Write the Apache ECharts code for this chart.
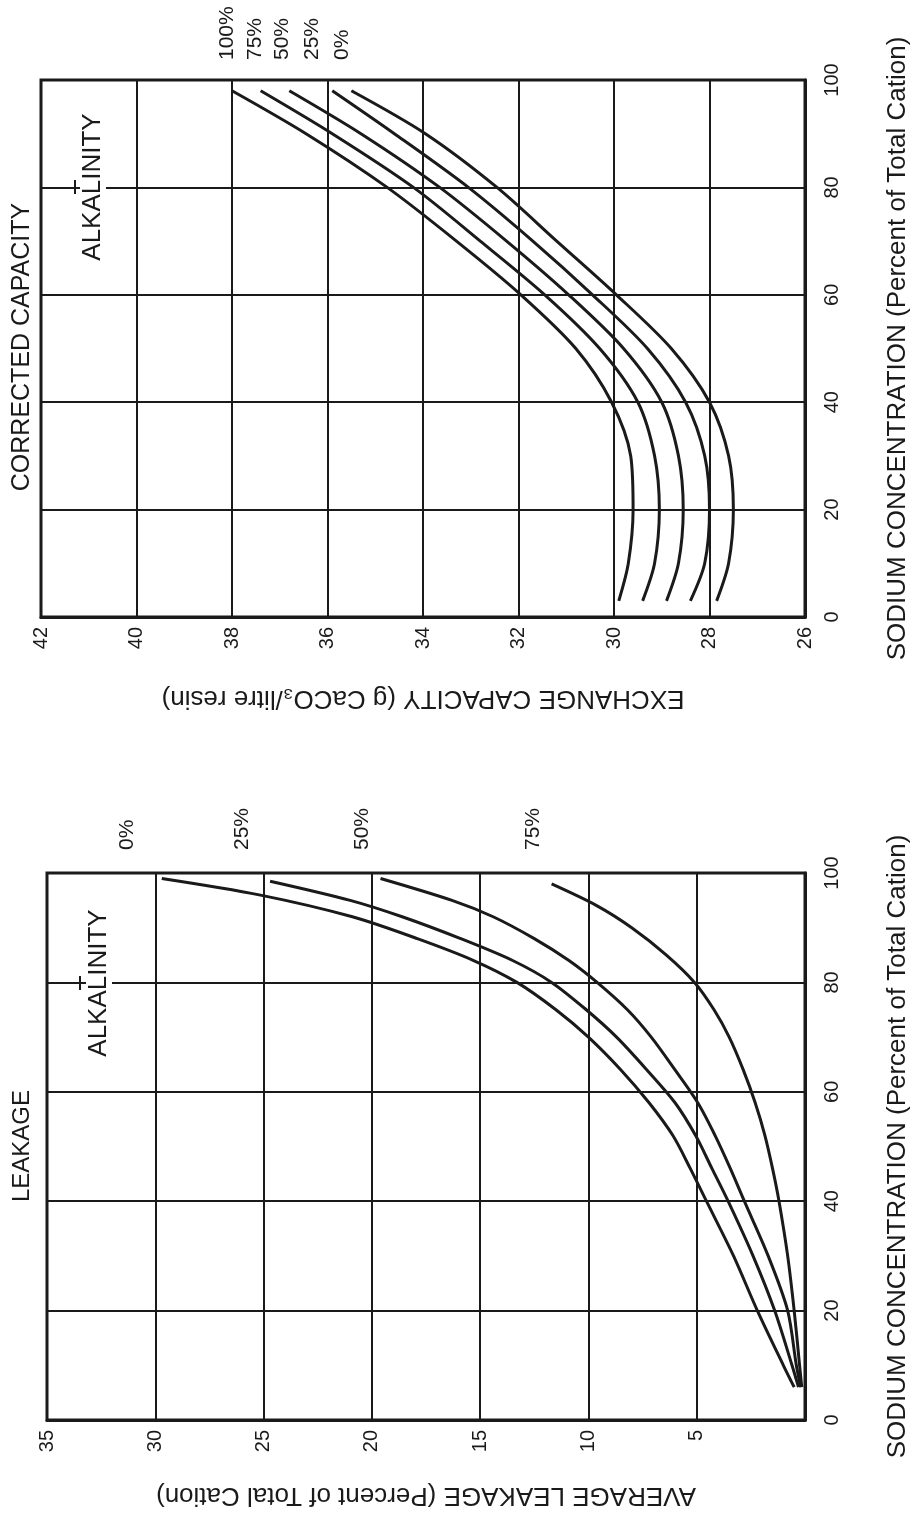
<!DOCTYPE html>
<html>
<head>
<meta charset="utf-8">
<script src="https://cdn.jsdelivr.net/npm/echarts@6/dist/echarts.min.js"></script>
<style>
html,body{margin:0;padding:0;background:#ffffff;}
#chart{width:919px;height:1514px;}
</style>
</head>
<body>
<div id="chart"></div>
<script>
// ---------- DATA ----------
// Corrected capacity chart: exchange capacity (g CaCO3/litre resin) vs sodium concentration (%)
const capacitySodium = [3, 10, 20, 30, 40, 50, 60, 70, 80, 90, 98];
const capacity100 = [29.9, 29.7, 29.6, 29.65, 30.05, 30.8, 31.95, 33.3, 34.75, 36.45, 38.0];
const capacity75  = [29.4, 29.15, 29.05, 29.15, 29.5, 30.3, 31.45, 32.8, 34.2, 35.9, 37.4];
const capacity50  = [28.9, 28.65, 28.55, 28.65, 29.0, 29.8, 30.95, 32.25, 33.65, 35.3, 36.8];
const capacity25  = [28.4, 28.1, 28.0, 28.1, 28.5, 29.3, 30.45, 31.7, 33.05, 34.6, 35.9];
const capacity0   = [27.85, 27.6, 27.5, 27.6, 28.0, 28.8, 29.95, 31.2, 32.45, 33.95, 35.5];
const capacityLabels = ['100%', '75%', '50%', '25%', '0%'];

// Leakage chart: average leakage (% of total cation) vs sodium concentration (%)
const leakSodium0  = [6, 10, 20, 30, 40, 46, 52, 58, 64, 70, 75, 80, 84, 88, 92, 96, 99];
const leakage0     = [0.5, 1.0, 2.2, 3.3, 4.55, 5.3, 6.1, 7.2, 8.5, 10.0, 11.5, 13.3, 15.3, 17.9, 20.9, 25.2, 29.7];
const leakSodium25 = [6, 10, 20, 30, 40, 46, 52, 58, 64, 70, 75, 80, 84, 88, 92, 95, 98.5];
const leakage25    = [0.3, 0.6, 1.4, 2.4, 3.55, 4.3, 5.05, 6.0, 7.3, 8.7, 10.1, 11.7, 13.5, 15.9, 18.6, 21.0, 24.7];
const leakSodium50 = [6, 10, 20, 30, 40, 46, 52, 58, 64, 70, 75, 80, 84, 88, 92, 95, 99];
const leakage50    = [0.2, 0.4, 0.8, 1.7, 2.8, 3.45, 4.15, 4.95, 6.0, 7.1, 8.2, 9.6, 10.9, 12.5, 14.4, 16.3, 19.6];
const leakSodium75 = [6, 10, 20, 30, 40, 46, 52, 58, 64, 70, 75, 80, 85, 90, 94, 98];
const leakage75    = [0.15, 0.25, 0.5, 0.8, 1.2, 1.5, 1.85, 2.3, 2.85, 3.5, 4.2, 5.1, 6.4, 8.0, 9.6, 11.7];
const leakageLabels = ['0%', '25%', '50%', '75%'];

// ---------- CHART ----------
const INK = '#1a1a1a';
const FONT = '"Liberation Sans", Arial, Helvetica, sans-serif';
const chart = echarts.init(document.getElementById('chart'), null, {renderer: 'canvas'});

function pairs(xs, ys) { return ys.map((s, i) => [xs[i], s]); }

function curve(name, xIdx, xs, ys) {
  return {
    name: name, type: 'line', xAxisIndex: xIdx, yAxisIndex: xIdx,
    data: pairs(xs, ys), smooth: 0.3, showSymbol: false, symbol: 'none',
    lineStyle: {color: INK, width: 3}, z: 5, silent: true
  };
}

const axisText = {color: INK, fontSize: 20, fontFamily: FONT};
const nameText = {color: INK, fontSize: 26, fontFamily: FONT};

function valueAxisX(grid, min, max, interval, name, hideZero, gap) {
  return {
    gridIndex: grid, type: 'value', min: min, max: max, interval: interval,
    inverse: true, position: 'bottom',
    axisLine: {show: true, lineStyle: {color: INK, width: 3}},
    axisTick: {show: false},
    splitLine: {show: true, lineStyle: {color: INK, width: 2}},
    axisLabel: Object.assign({rotate: 90, margin: 10,
      formatter: v => (hideZero && v === 0) ? '' : String(v)}, axisText),
    name: name, nameLocation: 'middle', nameGap: gap, nameRotate: 180,
    nameTextStyle: nameText
  };
}
function sodiumAxis(grid) {
  return {
    gridIndex: grid, type: 'value', min: 0, max: 100, interval: 20, position: 'right',
    axisLine: {show: true, lineStyle: {color: INK, width: 3}},
    axisTick: {show: false},
    splitLine: {show: true, lineStyle: {color: INK, width: 2}},
    axisLabel: Object.assign({rotate: 90, margin: 17}, axisText),
    name: 'SODIUM CONCENTRATION (Percent of Total Cation)',
    nameLocation: 'middle', nameGap: 80, nameRotate: 90,
    nameTextStyle: nameText
  };
}

function vText(text, x, y, size, align, extra) {
  return {
    type: 'text', x: x, y: y, rotation: Math.PI / 2, z: 20, silent: true,
    style: Object.assign({text: text, fill: INK, fontSize: size, fontFamily: FONT,
      align: align, verticalAlign: 'middle'}, extra || {})
  };
}

const capPctX = [227, 255, 282, 312, 342];
const leakPctX = [127, 242, 362, 533];

const graphics = [
  vText('CORRECTED CAPACITY', 22, 347, 25, 'center'),
  vText('LEAKAGE', 22, 1146, 24, 'center'),
  vText('ALKALINITY', 93, 187, 26, 'center', {backgroundColor: '#ffffff', padding: [0, 4]}),
  vText('ALKALINITY', 99, 983, 26, 'center', {backgroundColor: '#ffffff', padding: [0, 4]}),
  {type: 'line', z: 21, shape: {x1: 75, y1: 180, x2: 75, y2: 194}, style: {stroke: INK, lineWidth: 2}},
  {type: 'line', z: 21, shape: {x1: 80, y1: 976, x2: 80, y2: 990}, style: {stroke: INK, lineWidth: 2}}
];
capacityLabels.forEach((t, i) => graphics.push(vText(t, capPctX[i], 60, 21, 'left')));
leakageLabels.forEach((t, i) => graphics.push(vText(t, leakPctX[i], 850, 21, 'left')));

const option = {
  backgroundColor: '#ffffff',
  animation: false,
  grid: [
    {left: 41, top: 80, width: 776, height: 537, show: true, borderColor: INK, borderWidth: 3, containLabel: false},
    {left: 47, top: 873, width: 777, height: 547, show: true, borderColor: INK, borderWidth: 3, containLabel: false}
  ],
  xAxis: [
    valueAxisX(0, 26, 42, 2, 'EXCHANGE CAPACITY (g CaCO\u2083/litre resin)', false, 68),
    valueAxisX(1, 0, 35, 5, 'AVERAGE LEAKAGE (Percent of Total Cation)', true, 62)
  ],
  yAxis: [sodiumAxis(0), sodiumAxis(1)],
  series: [
    curve('100% alkalinity', 0, capacity100, capacitySodium),
    curve('75% alkalinity', 0, capacity75, capacitySodium),
    curve('50% alkalinity', 0, capacity50, capacitySodium),
    curve('25% alkalinity', 0, capacity25, capacitySodium),
    curve('0% alkalinity', 0, capacity0, capacitySodium),
    curve('0% alkalinity', 1, leakage0, leakSodium0),
    curve('25% alkalinity', 1, leakage25, leakSodium25),
    curve('50% alkalinity', 1, leakage50, leakSodium50),
    curve('75% alkalinity', 1, leakage75, leakSodium75)
  ],
  graphic: graphics
};
chart.setOption(option);
</script>
</body>
</html>
